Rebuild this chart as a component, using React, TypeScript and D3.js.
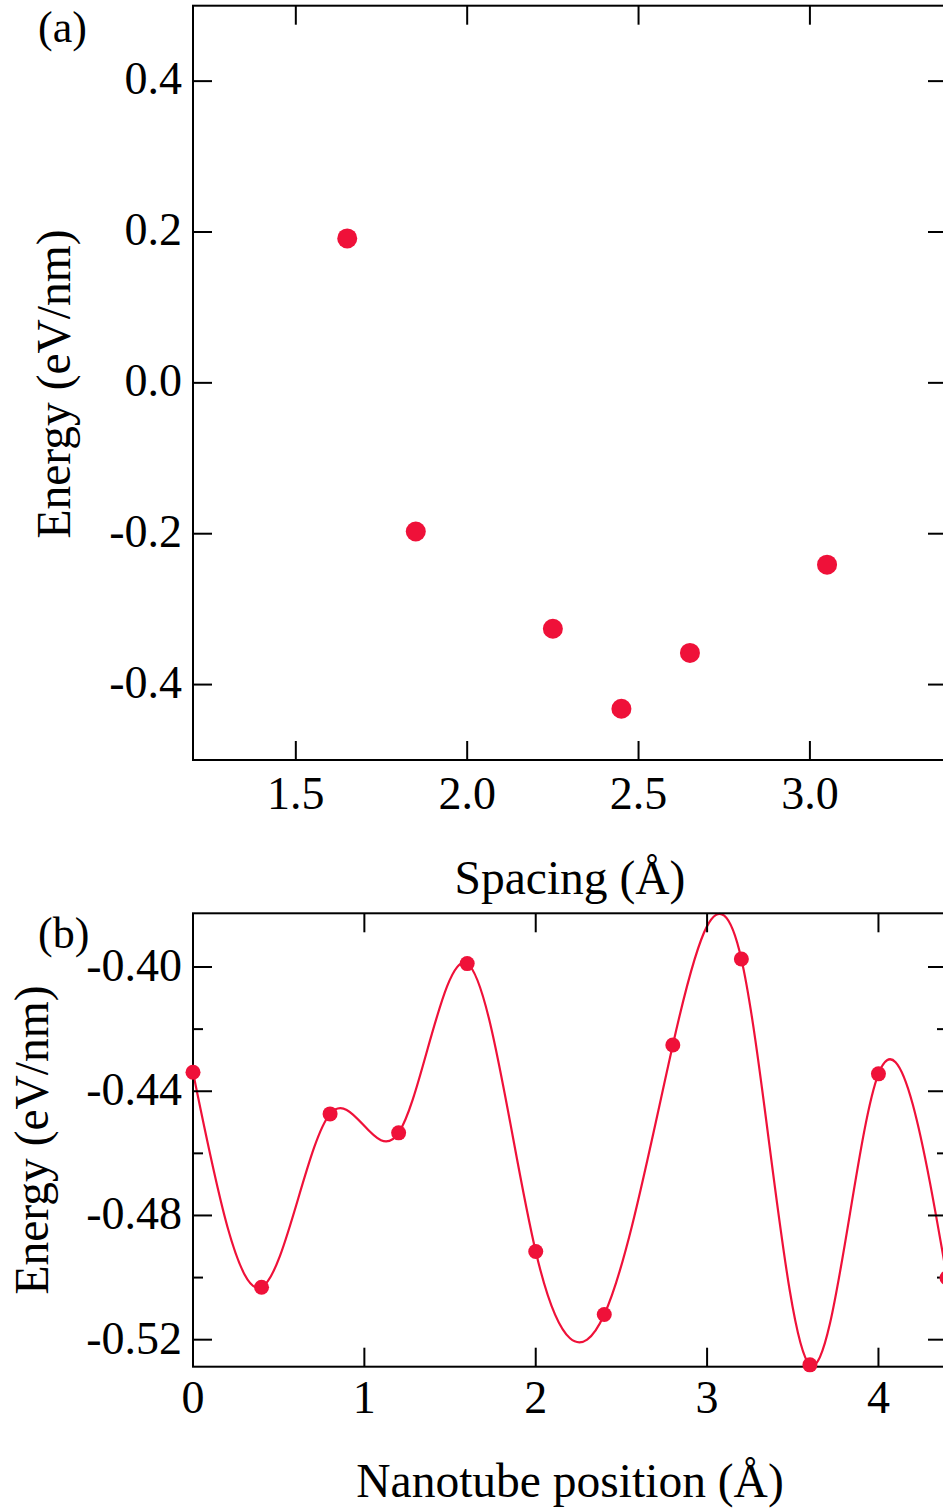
import React from "react";
import * as d3 from "d3";

// Panel (a): energy vs spacing
const spacingX = [1.65, 1.85, 2.25, 2.45, 2.65, 3.05];
const spacingEnergy = [0.1915, -0.197, -0.326, -0.432, -0.358, -0.241];
const aXTicks = [1.5, 2.0, 2.5, 3.0];
const aYTicks = [-0.4, -0.2, 0.0, 0.2, 0.4];

// Panel (b): energy vs nanotube position
const positionX = [0, 0.4, 0.8, 1.2, 1.6, 2.0, 2.4, 2.8, 3.2, 3.6, 4.0, 4.4];
const positionEnergy = [-0.4339, -0.5031, -0.4473, -0.4534, -0.3989, -0.4916, -0.5119, -0.4251, -0.3974, -0.5281, -0.4344, -0.5001];
const bXTicks = [0, 1, 2, 3, 4];
const bYMajor = [-0.4, -0.44, -0.48, -0.52];
const bYMinor = [-0.42, -0.46, -0.5];

const RED = "#EF1139";
const FONT = "'Liberation Serif', 'Times New Roman', serif";

export default function App() {
  const L = 193, R = 947;
  // panel a
  const aTop = 5.7, aBot = 760;
  const ax = d3.scaleLinear().domain([1.2, 3.4]).range([L, R]);
  const ay = d3.scaleLinear().domain([-0.5, 0.5]).range([aBot, aTop]);
  // panel b
  const bTop = 913.3, bBot = 1366.7;
  const bx = d3.scaleLinear().domain([0, 4.4]).range([L, R]);
  const by = d3.scaleLinear().domain([-0.5287, -0.3827]).range([bBot, bTop]);

  const line = d3
    .line<number>()
    .x((_, i) => bx(positionX[i]))
    .y((d) => by(d))
    .curve(d3.curveNatural);

  const major = 19;
  const minor = 10;
  const sw = 2;

  return (
    <svg
      width={943}
      height={1511}
      style={{ position: "absolute", left: 0, top: 0, background: "#fff" }}
      fontFamily={FONT}
    >
      <defs>
        <clipPath id="clipB">
          <rect x={L} y={bTop - 2} width={R - L} height={bBot - bTop + 4} />
        </clipPath>
      </defs>
      <rect x={0} y={0} width={943} height={1511} fill="#fff" />

      {/* ---------- Panel (a) ---------- */}
      <text x={38} y={42} fontSize={44}>(a)</text>
      <rect x={L} y={aTop} width={R - L} height={aBot - aTop} fill="none" stroke="#000" strokeWidth={sw} />
      {aYTicks.map((t) => (
        <g key={"ay" + t}>
          <line x1={L} x2={L + major} y1={ay(t)} y2={ay(t)} stroke="#000" strokeWidth={sw} />
          <line x1={R} x2={R - major} y1={ay(t)} y2={ay(t)} stroke="#000" strokeWidth={sw} />
          <text x={182} y={ay(t) + 13} fontSize={46} textAnchor="end">
            {t.toFixed(1)}
          </text>
        </g>
      ))}
      {aXTicks.map((t) => (
        <g key={"ax" + t}>
          <line x1={ax(t)} x2={ax(t)} y1={aBot} y2={aBot - major} stroke="#000" strokeWidth={sw} />
          <line x1={ax(t)} x2={ax(t)} y1={aTop} y2={aTop + major} stroke="#000" strokeWidth={sw} />
          <text x={ax(t)} y={809} fontSize={46} textAnchor="middle">
            {t.toFixed(1)}
          </text>
        </g>
      ))}
      {spacingX.map((x, i) => (
        <circle key={"pa" + i} cx={ax(x)} cy={ay(spacingEnergy[i])} r={10} fill={RED} />
      ))}
      <text x={570} y={894} fontSize={47.5} textAnchor="middle">
        Spacing (Å)
      </text>
      <text transform={`translate(70,384) rotate(-90)`} fontSize={47.5} textAnchor="middle">
        Energy (eV/nm)
      </text>

      {/* ---------- Panel (b) ---------- */}
      <text x={38} y={948} fontSize={44}>(b)</text>
      <g clipPath="url(#clipB)">
        <path d={line(positionEnergy) ?? ""} fill="none" stroke={RED} strokeWidth={2.2} />
      </g>
      <rect x={L} y={bTop} width={R - L} height={bBot - bTop} fill="none" stroke="#000" strokeWidth={sw} />
      {bYMajor.map((t) => (
        <g key={"by" + t}>
          <line x1={L} x2={L + major} y1={by(t)} y2={by(t)} stroke="#000" strokeWidth={sw} />
          <line x1={R} x2={R - major} y1={by(t)} y2={by(t)} stroke="#000" strokeWidth={sw} />
          <text x={182} y={by(t) + 14} fontSize={46} textAnchor="end">
            {t.toFixed(2)}
          </text>
        </g>
      ))}
      {bYMinor.map((t) => (
        <g key={"bym" + t}>
          <line x1={L} x2={L + minor} y1={by(t)} y2={by(t)} stroke="#000" strokeWidth={sw} />
          <line x1={R} x2={R - minor} y1={by(t)} y2={by(t)} stroke="#000" strokeWidth={sw} />
        </g>
      ))}
      {bXTicks.map((t) => (
        <g key={"bx" + t}>
          <line x1={bx(t)} x2={bx(t)} y1={bBot} y2={bBot - major} stroke="#000" strokeWidth={sw} />
          <line x1={bx(t)} x2={bx(t)} y1={bTop} y2={bTop + major} stroke="#000" strokeWidth={sw} />
          <text x={bx(t)} y={1413} fontSize={46} textAnchor="middle">
            {String(t)}
          </text>
        </g>
      ))}
      {positionX.map((x, i) => (
        <circle key={"pb" + i} cx={bx(x)} cy={by(positionEnergy[i])} r={7.5} fill={RED} />
      ))}
      <text x={570} y={1497} fontSize={47.5} textAnchor="middle">
        Nanotube position (Å)
      </text>
      <text transform={`translate(48,1140) rotate(-90)`} fontSize={47.5} textAnchor="middle">
        Energy (eV/nm)
      </text>
    </svg>
  );
}
